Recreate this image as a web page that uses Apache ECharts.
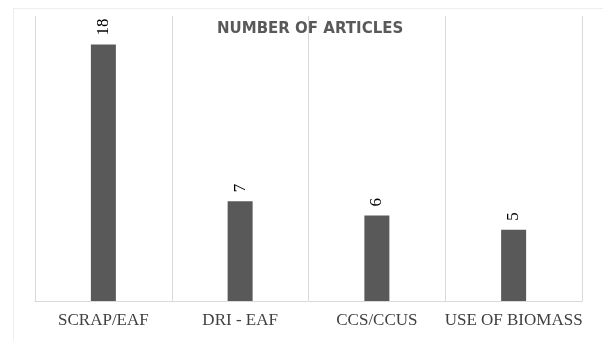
<!DOCTYPE html>
<html><head><meta charset="utf-8">
<script src="https://cdn.jsdelivr.net/npm/echarts@6/dist/echarts.min.js"></script>
<style>html,body{margin:0;padding:0;background:#fff}#c{width:603px;height:341px}</style>
</head><body><div id="c"></div>
<script>
const categories = ['SCRAP/EAF', 'DRI - EAF', 'CCS/CCUS', 'USE OF BIOMASS'];
const articles = [18, 7, 6, 5];
const titleText = 'NUMBER OF ARTICLES';

const chart = echarts.init(document.getElementById('c'), null, {renderer: 'canvas'});
chart.setOption({
  animation: false,
  backgroundColor: '#fff',
  title: {
    text: titleText, left: 212, top: 17,
    textStyle: {fontFamily: 'DejaVu Sans', fontWeight: 'bold', fontSize: 15, color: '#595959'}
  },
  graphic: [
    {type: 'line', shape: {x1: 13, y1: 8.5, x2: 603, y2: 8.5}, style: {stroke: '#eeeeee', lineWidth: 1}},
    {type: 'line', shape: {x1: 13.5, y1: 8, x2: 13.5, y2: 341}, style: {stroke: '#eeeeee', lineWidth: 1}}
  ],
  grid: {left: 35, right: 21, top: 16, bottom: 40, containLabel: false},
  xAxis: {
    type: 'category', data: categories,
    axisLine: {show: true, lineStyle: {color: '#d9d9d9', width: 1}},
    axisTick: {show: false},
    splitLine: {show: true, lineStyle: {color: '#d9d9d9', width: 1}},
    axisLabel: {margin: 11, fontFamily: 'Liberation Serif', fontSize: 17, color: '#404040', interval: 0}
  },
  yAxis: {
    type: 'value', min: 0, max: 20, interval: 2,
    show: false
  },
  series: [{
    type: 'bar', data: articles, barWidth: 25,
    itemStyle: {color: '#595959'},
    label: {
      show: true, position: 'top', rotate: 90, distance: 9,
      align: 'left', verticalAlign: 'middle',
      fontFamily: 'Liberation Serif', fontSize: 17, color: '#000'
    }
  }]
});
</script></body></html>
